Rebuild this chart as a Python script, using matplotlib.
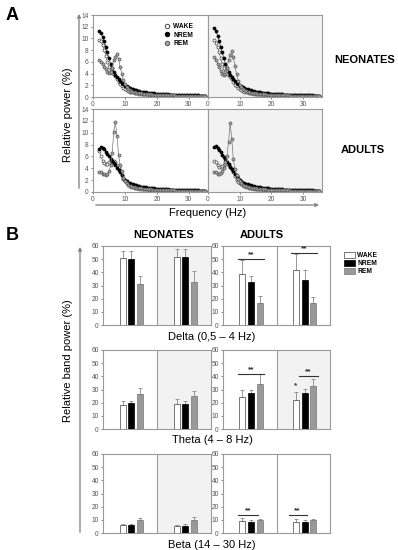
import numpy as np
import matplotlib
matplotlib.use('Agg')
import matplotlib.pyplot as plt
from matplotlib.patches import FancyArrowPatch, Patch
from matplotlib.lines import Line2D

plt.rcParams['font.family'] = ['Liberation Sans', 'DejaVu Sans']

W, H = 398, 550

# ---------------- panel A data (relative power %, 2..35 Hz, 0.5 Hz step) ----------------
freq = np.arange(2, 35.5, 0.5)

# 12..35 Hz tails (same look in all panels)
tail_nrem = [1.4, 1.3, 1.2, 1.12, 1.05, 0.98, 0.92, 0.87, 0.82, 0.78, 0.74, 0.7, 0.67, 0.64,
             0.61, 0.58, 0.56, 0.54, 0.52, 0.5, 0.48, 0.46, 0.44, 0.43, 0.42, 0.4, 0.39, 0.38,
             0.37, 0.36, 0.35, 0.34, 0.33, 0.32, 0.31, 0.3, 0.3, 0.29, 0.28, 0.28, 0.27, 0.26,
             0.26, 0.25, 0.25, 0.24, 0.24]
tail_wake = [0.85, 0.78, 0.72, 0.67, 0.62, 0.58, 0.55, 0.52, 0.49, 0.46, 0.44, 0.42, 0.4, 0.38,
             0.36, 0.35, 0.34, 0.33, 0.32, 0.31, 0.3, 0.29, 0.28, 0.27, 0.26, 0.26, 0.25, 0.24,
             0.24, 0.23, 0.23, 0.22, 0.22, 0.21, 0.21, 0.2, 0.2, 0.2, 0.19, 0.19, 0.19, 0.18,
             0.18, 0.18, 0.18, 0.17, 0.17]
tail_rem = [0.95, 0.87, 0.8, 0.74, 0.69, 0.64, 0.6, 0.56, 0.53, 0.5, 0.47, 0.45, 0.43, 0.41,
            0.39, 0.37, 0.36, 0.35, 0.34, 0.33, 0.32, 0.31, 0.3, 0.29, 0.28, 0.27, 0.27, 0.26,
            0.25, 0.25, 0.24, 0.24, 0.23, 0.23, 0.22, 0.22, 0.21, 0.21, 0.21, 0.2, 0.2, 0.2,
            0.19, 0.19, 0.19, 0.18, 0.18]

# 2..11.5 Hz
neo_l_wake = [9.8, 9.6, 8.9, 8.0, 7.0, 6.0, 5.1, 4.4, 4.1, 4.0, 3.6, 3.1, 2.6, 2.2, 1.8, 1.5, 1.3, 1.15, 1.0, 0.92]
neo_l_nrem = [11.2, 10.9, 10.2, 9.5, 8.6, 7.6, 6.6, 5.7, 4.9, 4.3, 3.8, 3.4, 3.0, 2.7, 2.4, 2.15, 1.95, 1.8, 1.65, 1.5]
neo_l_rem = [6.3, 5.9, 5.6, 5.2, 4.7, 4.3, 4.1, 4.2, 5.0, 6.3, 6.9, 7.4, 6.5, 5.2, 4.0, 2.9, 2.2, 1.7, 1.4, 1.15]

neo_r_wake = [9.8, 9.3, 8.5, 7.6, 6.6, 5.7, 4.9, 4.3, 4.0, 3.8, 3.4, 3.0, 2.5, 2.1, 1.8, 1.5, 1.3, 1.15, 1.0, 0.92]
neo_r_nrem = [11.8, 11.3, 10.5, 9.6, 8.6, 7.6, 6.6, 5.7, 4.9, 4.3, 3.8, 3.4, 3.0, 2.7, 2.4, 2.15, 1.95, 1.8, 1.65, 1.5]
neo_r_rem = [6.9, 6.3, 5.7, 5.1, 4.5, 4.0, 3.8, 4.0, 5.0, 6.4, 7.2, 7.8, 6.8, 5.3, 3.9, 2.8, 2.1, 1.7, 1.4, 1.15]

adu_l_wake = [7.0, 6.0, 5.3, 4.9, 4.8, 4.7, 5.0, 5.2, 5.3, 5.2, 5.0, 4.6, 4.2, 3.6, 2.9, 2.2, 1.8, 1.5, 1.3, 1.0]
adu_l_nrem = [7.2, 7.6, 7.5, 7.2, 6.8, 6.4, 6.0, 5.6, 5.2, 4.9, 4.5, 4.1, 3.7, 3.3, 2.8, 2.4, 2.1, 1.8, 1.6, 1.5]
adu_l_rem = [3.3, 3.3, 3.1, 3.0, 2.9, 3.0, 3.5, 4.5, 6.5, 10.2, 11.8, 9.5, 6.2, 4.5, 3.5, 2.4, 1.8, 1.5, 1.2, 1.05]

adu_r_wake = [5.2, 5.0, 4.6, 4.3, 4.3, 4.4, 4.6, 4.8, 4.7, 4.5, 4.2, 3.8, 3.3, 2.7, 2.1, 1.7, 1.5, 1.3, 1.1, 1.0]
adu_r_nrem = [7.6, 7.7, 7.4, 7.1, 6.7, 6.3, 5.9, 5.5, 5.1, 4.7, 4.3, 3.9, 3.5, 3.1, 2.7, 2.3, 2.0, 1.8, 1.6, 1.5]
adu_r_rem = [3.4, 3.3, 3.1, 3.1, 3.2, 3.5, 4.0, 5.0, 6.0, 8.5, 11.6, 9.0, 5.5, 3.8, 2.8, 2.2, 1.8, 1.5, 1.2, 1.05]

# ---------------- panel B data (relative band power %) ----------------
states = ['WAKE', 'NREM', 'REM']
bands = ['Delta (0,5 – 4 Hz)', 'Theta (4 – 8 Hz)', 'Beta (14 – 30 Hz)']
# [left half, right half] x [WAKE, NREM, REM]
neo_mean = [[[51, 50, 31], [52, 52, 32.5]],
            [[18.5, 19.5, 26.5], [19, 19, 25]],
            [[6, 6, 9.5], [5, 5.5, 9.5]]]
neo_err = [[[5, 6, 6], [6, 6, 8.5]],
           [[2.5, 2, 4.5], [3.5, 2, 3.5]],
           [[1, 1, 2], [1, 1, 2.5]]]
adu_mean = [[[38.5, 33, 17], [41.5, 34, 16.5]],
            [[24.5, 27, 34], [22, 27, 33]],
            [[9, 8.5, 10], [8.5, 8.5, 10]]]
adu_err = [[[10.5, 4, 5], [12.5, 8, 4.5]],
           [[5.5, 2.5, 7.5], [6, 3.5, 5]],
           [[2.5, 1, 1], [2, 1, 1]]]
# significance bars in adults: (x start, x end, y, label)
adu_sig = [[(1.1, 3.1, 50, '**'), (5.1, 7.0, 54.5, '**')],
           [(1.1, 3.1, 42, '**'), (5.7, 7.1, 40.5, '**')],
           [(1.1, 2.6, 13.8, '**'), (4.9, 6.25, 13.8, '**')]]
adu_single = [[], [(5.45, 30, '*')], []]
adu_gray_right = [False, True, False]

GRID = '#999999'
BG = '#f2f2f2'
TICK = '#555555'


def rect(x0, y0, x1, y1):
    return [x0 / W, 1 - y1 / H, (x1 - x0) / W, (y1 - y0) / H]


def fpos(x, y):
    return (x / W, 1 - y / H)


def style(ax):
    for s in ax.spines.values():
        s.set_color(GRID)
        s.set_linewidth(0.8)
    ax.tick_params(labelsize=4.8, colors=TICK, length=1.5, width=0.5, pad=1.5)


fig = plt.figure(figsize=(W / 100, H / 100), dpi=100)

# ---------------- panel A ----------------
boxes = [(93, 15, 208, 97), (208, 15, 322, 97), (93, 109, 208, 192), (208, 109, 322, 192)]
series = [(neo_l_wake, neo_l_nrem, neo_l_rem), (neo_r_wake, neo_r_nrem, neo_r_rem),
          (adu_l_wake, adu_l_nrem, adu_l_rem), (adu_r_wake, adu_r_nrem, adu_r_rem)]
mk = [dict(mfc='white', mec='#444444'), dict(mfc='black', mec='black'), dict(mfc='#aaaaaa', mec='#555555')]
lc = ['#777777', '#333333', '#777777']
for i, (box, curves) in enumerate(zip(boxes, series)):
    ax = fig.add_axes(rect(*box))
    style(ax)
    if i % 2 == 1:
        ax.set_facecolor(BG)
        ax.set_yticks([])
    else:
        ax.set_yticks(range(0, 15, 2))
    ax.set_xlim(0, 36)
    ax.set_ylim(0, 14)
    ax.set_xticks([0, 10, 20, 30])
    tails = [tail_wake, tail_nrem, tail_rem]
    for k in range(3):
        ax.plot(freq, np.array(curves[k] + tails[k]), '-o', color=lc[k], lw=0.5, ms=2.2,
                mew=0.5, **mk[k])
    if i == 0:
        hs = [Line2D([], [], ls='none', marker='o', ms=3.2, mew=0.7, **mk[k]) for k in range(3)]
        ax.legend(hs, states, loc='upper left', bbox_to_anchor=fpos(162, 20),
                  bbox_transform=fig.transFigure, frameon=False,
                  prop={'weight': 'bold', 'size': 4.8},
                  handlelength=0.6, handletextpad=0.6, labelspacing=0.2, borderpad=0)

fig.text(*fpos(365, 60), 'NEONATES', ha='center', va='center', fontsize=8, fontweight='bold')
fig.text(*fpos(363, 150), 'ADULTS', ha='center', va='center', fontsize=8, fontweight='bold')
fig.text(*fpos(68, 115), 'Relative power (%)', ha='center', va='center', rotation=90, fontsize=8)
fig.text(*fpos(208, 213), 'Frequency (Hz)', ha='center', va='center', fontsize=8)
fig.text(*fpos(6, 15), 'A', ha='left', va='center', fontsize=13, fontweight='bold')

for a, b in [((79, 191), (79, 11)), ((93, 205), (322, 205)), ((80, 535), (80, 244))]:
    fig.add_artist(FancyArrowPatch(fpos(*a), fpos(*b), transform=fig.transFigure,
                                   arrowstyle='-|>', mutation_scale=5, lw=1.0, color='#888888'))

# ---------------- panel B ----------------
offs = [1.45, 2.1, 2.75]
colors = ['white', 'black', '#999999']
edges = ['#444444', 'black', '#777777']
rows = [(246, 325), (350, 429), (454, 533)]
label_y = [337, 440, 545]

for r, (y0, y1) in enumerate(rows):
    for g, (x0, x1) in enumerate([(103, 211), (223, 330)]):
        ax = fig.add_axes(rect(x0, y0, x1, y1))
        style(ax)
        ax.set_xlim(0, 8)
        ax.set_ylim(0, 60)
        ax.set_yticks(range(0, 61, 10))
        ax.set_xticks([])
        means = neo_mean[r] if g == 0 else adu_mean[r]
        errs = neo_err[r] if g == 0 else adu_err[r]
        if g == 0 or adu_gray_right[r]:
            ax.axvspan(4, 8, color=BG, zorder=0, lw=0)
        ax.axvline(4, color=GRID, lw=0.8)
        for h in range(2):
            for k in range(3):
                x = h * 4 + offs[k]
                ax.bar(x, means[h][k], 0.45, color=colors[k], edgecolor=edges[k], lw=0.5, zorder=3)
                ax.errorbar(x, means[h][k], yerr=[[0], [errs[h][k]]], fmt='none', ecolor='#888888',
                            elinewidth=0.6, capsize=1.2, capthick=0.6, zorder=2)
        if g == 1:
            for xs, xe, y, lab in adu_sig[r]:
                ax.plot([xs, xe], [y, y], color='#333333', lw=0.8)
                ax.text((xs + xe) / 2, y + 0.5, lab, ha='center', va='bottom', fontsize=6,
                        fontweight='bold', color='#333333')
            for xs, y, lab in adu_single[r]:
                ax.text(xs, y, lab, ha='center', va='bottom', fontsize=6, fontweight='bold',
                        color='#333333')
    fig.text(*fpos(212, label_y[r]), bands[r], ha='center', va='center', fontsize=8)

fig.text(*fpos(164, 235), 'NEONATES', ha='center', va='center', fontsize=8, fontweight='bold')
fig.text(*fpos(262, 235), 'ADULTS', ha='center', va='center', fontsize=8, fontweight='bold')
fig.text(*fpos(68, 361), 'Relative band power (%)', ha='center', va='center', rotation=90, fontsize=8)
fig.text(*fpos(6, 236), 'B', ha='left', va='center', fontsize=13, fontweight='bold')

handles = [Patch(facecolor=c, edgecolor=e, lw=0.5) for c, e in zip(colors, edges)]
fig.legend(handles, states, loc='upper left', bbox_to_anchor=fpos(341, 249), frameon=False,
           prop={'weight': 'bold', 'size': 4.8}, handlelength=1.6, handleheight=0.8,
           handletextpad=0.3, labelspacing=0.15, borderpad=0)

fig.savefig('out.png', dpi=100)
